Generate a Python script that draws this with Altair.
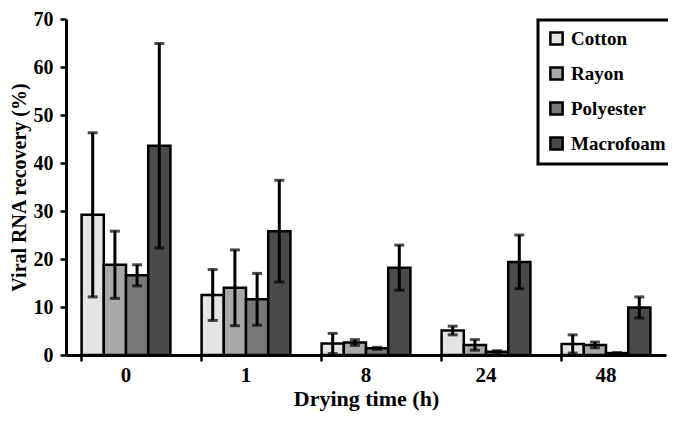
import altair as alt
import pandas as pd

times = ["0", "1", "8", "24", "48"]
materials = ["Cotton", "Rayon", "Polyester", "Macrofoam"]

cotton_mean = [29.2, 12.5, 2.4, 5.1, 2.3]
cotton_err = [17.1, 5.3, 2.1, 0.9, 1.9]
rayon_mean = [18.8, 14.0, 2.6, 2.1, 2.1]
rayon_err = [7.0, 7.9, 0.6, 1.1, 0.6]
polyester_mean = [16.6, 11.6, 1.4, 0.7, 0.4]
polyester_err = [2.2, 5.4, 0.2, 0.2, 0.1]
macrofoam_mean = [43.6, 25.8, 18.2, 19.4, 9.9]
macrofoam_err = [21.3, 10.6, 4.7, 5.6, 2.2]

fills = ["#e4e4e4", "#a8a8a8", "#787878", "#4a4a4a"]

rows = []
for mat, means, errs in zip(
    materials,
    [cotton_mean, rayon_mean, polyester_mean, macrofoam_mean],
    [cotton_err, rayon_err, polyester_err, macrofoam_err],
):
    for t, m, e in zip(times, means, errs):
        rows.append({"time": t, "material": mat, "mean": m,
                     "low": max(m - e, 0), "high": m + e})
df = pd.DataFrame(rows)

FONT = "Liberation Serif"

x = alt.X("time:N", sort=times,
          scale=alt.Scale(paddingInner=0.26, paddingOuter=0.13),
          axis=alt.Axis(title="Drying time (h)", labelAngle=0, bandPosition=0,
                        tickSize=6, labelPadding=3, titlePadding=3,
                        labelFontSize=21, titleFontSize=22))
xo = alt.XOffset("material:N", sort=materials, scale=alt.Scale(domain=materials))

base = alt.Chart(df)

bars = base.mark_bar(stroke="black", strokeWidth=2.5).encode(
    x=x, xOffset=xo,
    y=alt.Y("mean:Q", scale=alt.Scale(domain=[0, 70], nice=False),
            axis=alt.Axis(title="Viral RNA recovery (%)", values=[0, 10, 20, 30, 40, 50, 60, 70],
                          tickSize=6, labelPadding=7, titlePadding=4,
                          labelFontSize=20, titleFontSize=20)),
    color=alt.Color("material:N", sort=materials,
                    scale=alt.Scale(domain=materials, range=fills),
                    legend=alt.Legend(title=None, orient="none", legendX=472, legendY=1,
                                      symbolType="square", symbolSize=150,
                                      symbolStrokeColor="black", symbolStrokeWidth=2.5,
                                      symbolOpacity=1, symbolOffset=0, labelOffset=5,
                                      labelFont=FONT, labelFontSize=19, labelFontWeight="bold",
                                      labelColor="black", rowPadding=12, padding=9,
                                      strokeColor="black")),
)

rules = base.mark_rule(color="black", strokeWidth=3).encode(
    x=x, xOffset=xo, y="low:Q", y2="high:Q")
cap_hi = base.mark_tick(color="black", thickness=3, size=10).encode(
    x=x, xOffset=xo, y="high:Q")
cap_lo = base.mark_tick(color="black", thickness=3, size=10).encode(
    x=x, xOffset=xo, y="low:Q")

chart = alt.layer(bars, rules, cap_hi, cap_lo).properties(
    width=600, height=336,
    autosize=alt.AutoSizeParams(type="none"),
    padding={"left": 58, "top": 11, "right": 2, "bottom": 58},
).configure(font=FONT).configure_view(stroke=None).configure_axis(
    domainColor="black", domainWidth=3, tickColor="black", tickWidth=2.5,
    labelFont=FONT, labelFontWeight="bold", labelColor="black",
    titleFont=FONT, titleFontWeight="bold", titleColor="black",
    grid=False
).configure_legend(strokeWidth=3)

chart.save("out.html", embed_options={"renderer": "svg", "actions": False})
